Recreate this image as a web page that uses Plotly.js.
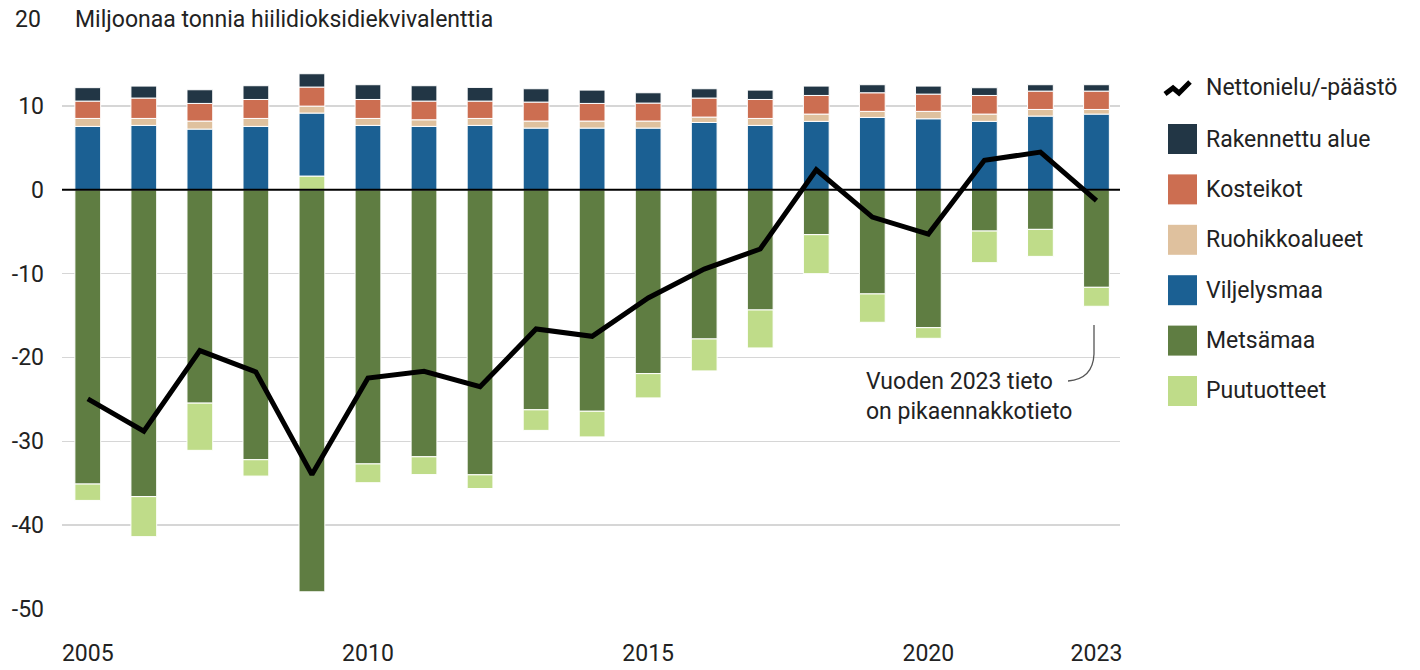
<!DOCTYPE html>
<html>
<head>
<meta charset="utf-8">
<script src="https://cdn.plot.ly/plotly-3.0.1.min.js"></script>
<style>
  html, body { margin: 0; padding: 0; background: #fff; }
  #chart { width: 1420px; height: 670px; }
</style>
</head>
<body>
<div id="chart"></div>
<script>
// Maankäyttösektorin päästöt ja poistumat, milj. t CO2-ekv.
var years = [2005, 2006, 2007, 2008, 2009, 2010, 2011, 2012, 2013, 2014,
             2015, 2016, 2017, 2018, 2019, 2020, 2021, 2022, 2023];

var metsamaa     = [-35.1, -36.6, -25.45, -32.2, -47.95, -32.7, -31.85, -34.0, -26.25, -26.42,
                    -21.93, -17.8, -14.34, -5.36, -12.43, -16.45, -4.93, -4.73, -11.64];
var puutuotteet  = [-1.95, -4.77, -5.63, -1.95, 1.63, -2.24, -2.12, -1.63, -2.45, -3.06,
                    -2.9, -3.81, -4.53, -4.65, -3.38, -1.27, -3.77, -3.22, -2.26];
var viljelysmaa  = [7.55, 7.67, 7.23, 7.55, 7.51, 7.67, 7.55, 7.67, 7.35, 7.35,
                    7.35, 8.02, 7.67, 8.15, 8.62, 8.46, 8.15, 8.78, 9.02];
var ruohikko     = [0.95, 0.83, 0.96, 0.95, 0.83, 0.83, 0.79, 0.83, 0.84, 0.84,
                    0.84, 0.64, 0.83, 0.87, 0.72, 0.88, 0.87, 0.79, 0.55];
var kosteikot    = [2.07, 2.43, 2.10, 2.26, 2.27, 2.26, 2.23, 2.07, 2.26, 2.10,
                    2.14, 2.27, 2.26, 2.22, 2.22, 2.06, 2.22, 2.19, 2.19];
var rakennettu   = [1.60, 1.43, 1.63, 1.64, 1.59, 1.76, 1.83, 1.63, 1.59, 1.59,
                    1.23, 1.11, 1.12, 1.12, 0.96, 0.96, 0.92, 0.76, 0.76];
var nettonielu   = [-24.95, -28.8, -19.19, -21.73, -33.97, -22.45, -21.65, -23.5, -16.6, -17.48,
                    -12.91, -9.46, -7.07, 2.38, -3.26, -5.29, 3.5, 4.49, -1.29];

var yTicks = [-50, -40, -30, -20, -10, 0, 10];
var xTicks = [2005, 2010, 2015, 2020, 2023];

var FONT = "Roboto, 'Liberation Sans', sans-serif";
var FS = 23;

// plot area in pixels
var W = 1420, H = 670;
var ML = 62, MR = 300, MT = 22, MB = 61;
var PW = W - ML - MR, PH = H - MT - MB;
function px(x) { return (x - ML) / PW; }
function py(y) { return (H - MB - y) / PH; }

function barTrace(name, vals, color) {
  return {
    type: 'bar', name: name, x: years, y: vals,
    marker: {color: color, line: {color: '#ffffff', width: 1}},
    width: 0.46, showlegend: false, hoverinfo: 'x+y+name'
  };
}

var data = [
  barTrace('Metsämaa', metsamaa, '#5f7d42'),
  barTrace('Puutuotteet', puutuotteet, '#bfdc89'),
  barTrace('Viljelysmaa', viljelysmaa, '#1b6093'),
  barTrace('Ruohikkoalueet', ruohikko, '#dfc19e'),
  barTrace('Kosteikot', kosteikot, '#cc6e51'),
  barTrace('Rakennettu alue', rakennettu, '#223645'),
  {
    type: 'scatter', mode: 'lines', name: 'Nettonielu/-päästö',
    x: years, y: nettonielu,
    line: {color: '#000000', width: 5},
    showlegend: false
  }
];

// custom legend
var legendItems = [
  ['Rakennettu alue', '#223645'],
  ['Kosteikot', '#cc6e51'],
  ['Ruohikkoalueet', '#dfc19e'],
  ['Viljelysmaa', '#1b6093'],
  ['Metsämaa', '#5f7d42'],
  ['Puutuotteet', '#bfdc89']
];

var shapes = [
  // zero line
  {type: 'line', xref: 'paper', yref: 'y', x0: 0, x1: 1, y0: 0, y1: 0,
   line: {color: '#000000', width: 2}, layer: 'above'},
  // line icon in legend
  {type: 'path', xref: 'paper', yref: 'paper',
   path: 'M' + px(1165) + ',' + py(94) + ' L' + px(1173) + ',' + py(88) +
         ' L' + px(1179) + ',' + py(93) + ' L' + px(1190) + ',' + py(82),
   line: {color: '#000000', width: 5}},
  // note connector
  {type: 'path', xref: 'paper', yref: 'paper',
   path: 'M' + px(1094) + ',' + py(325) + ' L' + px(1094) + ',' + py(354) +
         ' Q' + px(1093) + ',' + py(379) + ' ' + px(1068) + ',' + py(381),
   line: {color: '#555555', width: 1.3}}
];

var annotations = [
  {xref: 'paper', yref: 'paper', x: px(43), y: py(19), xanchor: 'right', yanchor: 'middle',
   text: '20', showarrow: false, font: {family: FONT, size: FS, color: '#222'}},
  {xref: 'paper', yref: 'paper', x: px(73), y: py(19), xanchor: 'left', yanchor: 'middle',
   text: 'Miljoonaa tonnia hiilidioksidiekvivalenttia', showarrow: false,
   font: {family: FONT, size: FS, color: '#222'}},
  {xref: 'paper', yref: 'paper', x: px(1204), y: py(88), xanchor: 'left', yanchor: 'middle',
   text: 'Nettonielu/-päästö', showarrow: false, font: {family: FONT, size: FS, color: '#222'}},
  {xref: 'paper', yref: 'paper', x: px(864), y: py(396), xanchor: 'left', yanchor: 'middle',
   align: 'left', text: 'Vuoden 2023 tieto<br>on pikaennakkotieto', showarrow: false,
   font: {family: FONT, size: FS, color: '#222'}}
];

legendItems.forEach(function (it, i) {
  var cy = 139 + i * 50.4;
  shapes.push({type: 'rect', xref: 'paper', yref: 'paper',
    x0: px(1168), x1: px(1197), y0: py(cy - 15), y1: py(cy + 15),
    fillcolor: it[1], line: {width: 0}});
  annotations.push({xref: 'paper', yref: 'paper', x: px(1204), y: py(cy),
    xanchor: 'left', yanchor: 'middle', text: it[0], showarrow: false,
    font: {family: FONT, size: FS, color: '#222'}});
});

var layout = {
  width: W, height: H,
  margin: {l: ML, r: MR, t: MT, b: MB, pad: 0},
  paper_bgcolor: '#ffffff', plot_bgcolor: '#ffffff',
  barmode: 'relative',
  showlegend: false,
  font: {family: FONT, size: FS, color: '#222'},
  xaxis: {
    range: [2004.54, 2023.42], tickvals: xTicks, ticktext: xTicks.map(String),
    showgrid: false, zeroline: false, showline: false,
    ticks: '', ticklabelstandoff: 28, tickfont: {family: FONT, size: FS, color: '#222'}
  },
  yaxis: {
    range: [-50, 20], tickvals: yTicks, ticktext: yTicks.map(function (v) { return String(v); }),
    showgrid: true, gridcolor: '#d6d6d6', gridwidth: 1.5,
    zeroline: false, showline: false, ticks: '', ticklabelstandoff: 17,
    tickfont: {family: FONT, size: FS, color: '#222'}
  },
  shapes: shapes,
  annotations: annotations
};

Plotly.newPlot('chart', data, layout, {displayModeBar: false, staticPlot: true});
</script>
</body>
</html>
